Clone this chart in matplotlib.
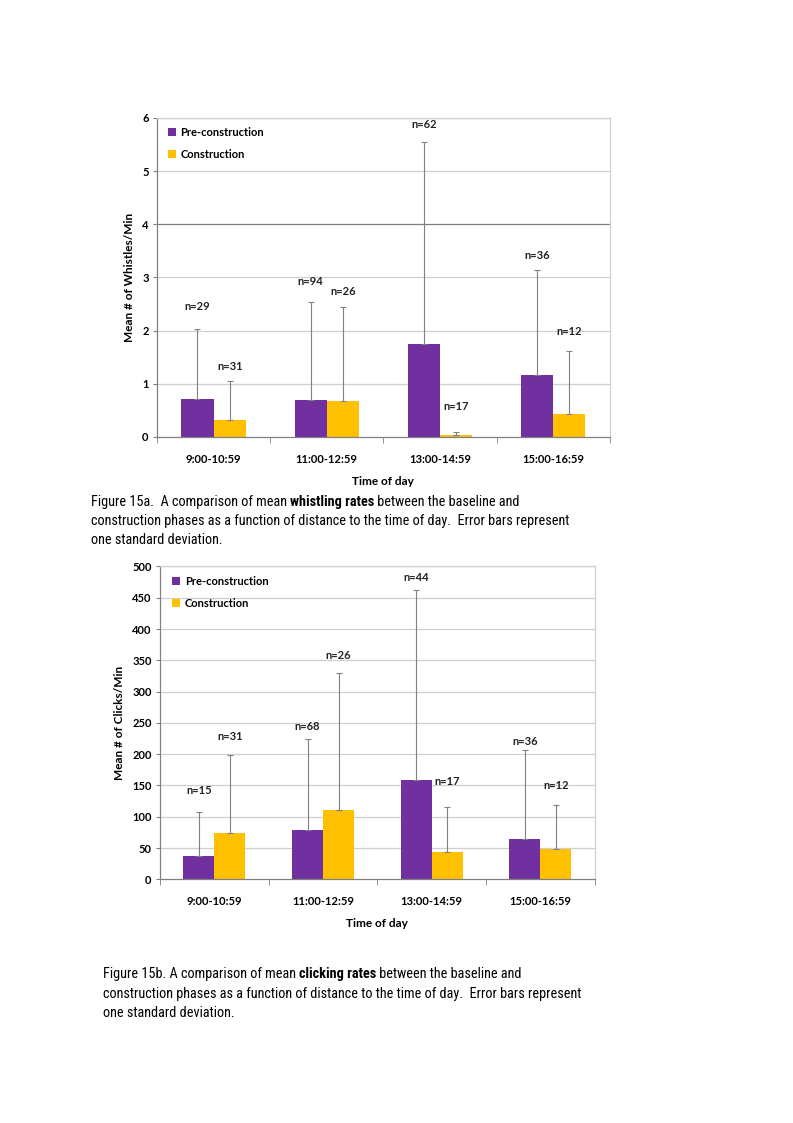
import matplotlib
matplotlib.use("Agg")
import matplotlib.pyplot as plt
from matplotlib import font_manager
import numpy as np

# data
periods = ["9:00-10:59", "11:00-12:59", "13:00-14:59", "15:00-16:59"]
series = ["Pre-construction", "Construction"]

whistle_pre = [0.71, 0.69, 1.74, 1.16]
whistle_con = [0.32, 0.67, 0.03, 0.43]
whistle_pre_sd = [1.31, 1.85, 3.81, 1.98]
whistle_con_sd = [0.74, 1.77, 0.07, 1.19]
whistle_n_pre = [29, 94, 62, 36]
whistle_n_con = [31, 26, 17, 12]
whistle_lab_pre = [2.46, 2.93, 5.88, 3.41]
whistle_lab_con = [1.32, 2.74, 0.57, 1.99]

click_pre = [37, 79, 159, 65]
click_con = [74, 110, 44, 49]
click_pre_sd = [70, 145, 304, 141]
click_con_sd = [125, 219, 72, 70]
click_n_pre = [15, 68, 44, 36]
click_n_con = [31, 26, 17, 12]
click_lab_pre = [142, 245, 483, 221]
click_lab_con = [229, 357, 157, 150]

PURPLE = "#7030A0"
YELLOW = "#FFC000"
FONT = "Lato"

# caption font: a narrow Arial-like face if one is installed
CAP_FONT = "Liberation Sans"
for cand in ["Liberation Sans Narrow", "Arial Narrow", "Nimbus Sans Narrow",
             "Roboto Condensed", "Open Sans Condensed", "Noto Sans Condensed",
             "DejaVu Sans Condensed"]:
    try:
        font_manager.findfont(cand, fallback_to_default=False)
        CAP_FONT = cand
        break
    except Exception:
        pass


def draw(ax, pre, con, pre_sd, con_sd, n_pre, n_con, lab_pre, lab_con,
         ymax, ystep, ylabel, dark_grid=None, leg_x=0.02):
    x = np.arange(len(periods))
    w = 0.285
    ax.set_xlim(-0.5, len(periods) - 0.5)
    ax.set_ylim(0, ymax)
    yt = np.arange(0, ymax + ystep / 2, ystep)
    for v in yt[1:]:
        col = "#7f7f7f" if dark_grid is not None and abs(v - dark_grid) < 1e-9 else "#cfcfcf"
        ax.axhline(v, color=col, lw=0.9, zorder=0)
    ax.bar(x - w / 2, pre, w, color=PURPLE, label=series[0], zorder=2)
    ax.bar(x + w / 2, con, w, color=YELLOW, label=series[1], zorder=2)
    ax.errorbar(x - w / 2, pre, yerr=[np.zeros(4), pre_sd], fmt="none",
                ecolor="#808080", elinewidth=0.8, capsize=2, capthick=0.8, zorder=3)
    ax.errorbar(x + w / 2, con, yerr=[np.zeros(4), con_sd], fmt="none",
                ecolor="#808080", elinewidth=0.8, capsize=2, capthick=0.8, zorder=3)
    for i in range(len(periods)):
        ax.text(x[i] - w / 2, lab_pre[i], "n=%d" % n_pre[i], ha="center", va="center",
                fontsize=8, fontweight="bold", family=FONT, color="#222222")
        ax.text(x[i] + w / 2, lab_con[i], "n=%d" % n_con[i], ha="center", va="center",
                fontsize=8, fontweight="bold", family=FONT, color="#222222")

    ax.set_yticks(yt)
    ax.set_yticklabels([("%g" % v) for v in yt], fontsize=8, fontweight="bold", family=FONT)
    ax.set_xticks(x)
    ax.set_xticklabels(periods, fontsize=8, fontweight="bold", family=FONT)
    ax.tick_params(axis="x", length=0, pad=12)
    ax.tick_params(axis="y", length=3, color="#808080", pad=3)
    # category separator ticks
    ax.set_xticks(np.arange(-0.5, len(periods)), minor=True)
    ax.tick_params(axis="x", which="minor", length=4, color="#808080", direction="out")
    for s in ["left", "bottom"]:
        ax.spines[s].set_color("#808080")
        ax.spines[s].set_linewidth(0.9)
    for s in ["top", "right"]:
        ax.spines[s].set_color("#d0d0d0")
        ax.spines[s].set_linewidth(0.9)
    ax.set_ylabel(ylabel, fontsize=8.5, fontweight="bold", family=FONT, labelpad=5)
    ax.set_xlabel("Time of day", fontsize=8.5, fontweight="bold", family=FONT, labelpad=8)
    ax.legend(loc="upper left", bbox_to_anchor=(leg_x - 0.01, 0.985), frameon=False,
              prop={"family": FONT, "weight": "bold", "size": 8},
              handlelength=0.75, handleheight=0.75, handletextpad=0.4,
              labelspacing=1.0, borderaxespad=0)


fig = plt.figure(figsize=(7.93, 11.23), dpi=100)

ax1 = fig.add_axes([0.198, 0.611, 0.571, 0.284])
draw(ax1, whistle_pre, whistle_con, whistle_pre_sd, whistle_con_sd,
     whistle_n_pre, whistle_n_con, whistle_lab_pre, whistle_lab_con,
     6, 1, "Mean # of Whistles/Min", dark_grid=4, leg_x=0.024)

ax2 = fig.add_axes([0.2018, 0.217, 0.5482, 0.2786])
draw(ax2, click_pre, click_con, click_pre_sd, click_con_sd,
     click_n_pre, click_n_con, click_lab_pre, click_lab_con,
     500, 50, "Mean # of Clicks/Min", leg_x=0.027)

W, H = 793, 1123
renderer = fig.canvas.get_renderer()

# caption size: long line about as wide as on the page (~480 px)
long_line = "construction phases as a function of distance to the time of day.  Error bars represent"
probe = fig.text(0, 0, long_line, fontsize=12, family=CAP_FONT)
cap_size = min(12.5, 12 * 481 / probe.get_window_extent(renderer=renderer).width)
probe.remove()
cap_kw = dict(fontsize=cap_size, family=CAP_FONT, color="black", va="center")


def text_run(x0, y, parts):
    # consecutive segments on one line, measured as we go
    xpix = x0
    for txt, bold in parts:
        t = fig.text(xpix / W, 1 - y / H, txt, fontweight="bold" if bold else "normal", **cap_kw)
        xpix += t.get_window_extent(renderer=renderer).width


text_run(91, 502, [("Figure 15a.  A comparison of mean ", False), ("whistling rates", True),
                   (" between the baseline and", False)])
text_run(91, 521, [(long_line, False)])
text_run(91, 540, [("one standard deviation.", False)])

text_run(103, 974, [("Figure 15b. A comparison of mean ", False), ("clicking rates", True),
                    (" between the baseline and", False)])
text_run(103, 994, [(long_line, False)])
text_run(103, 1013, [("one standard deviation.", False)])

fig.savefig("out.png", dpi=100)
